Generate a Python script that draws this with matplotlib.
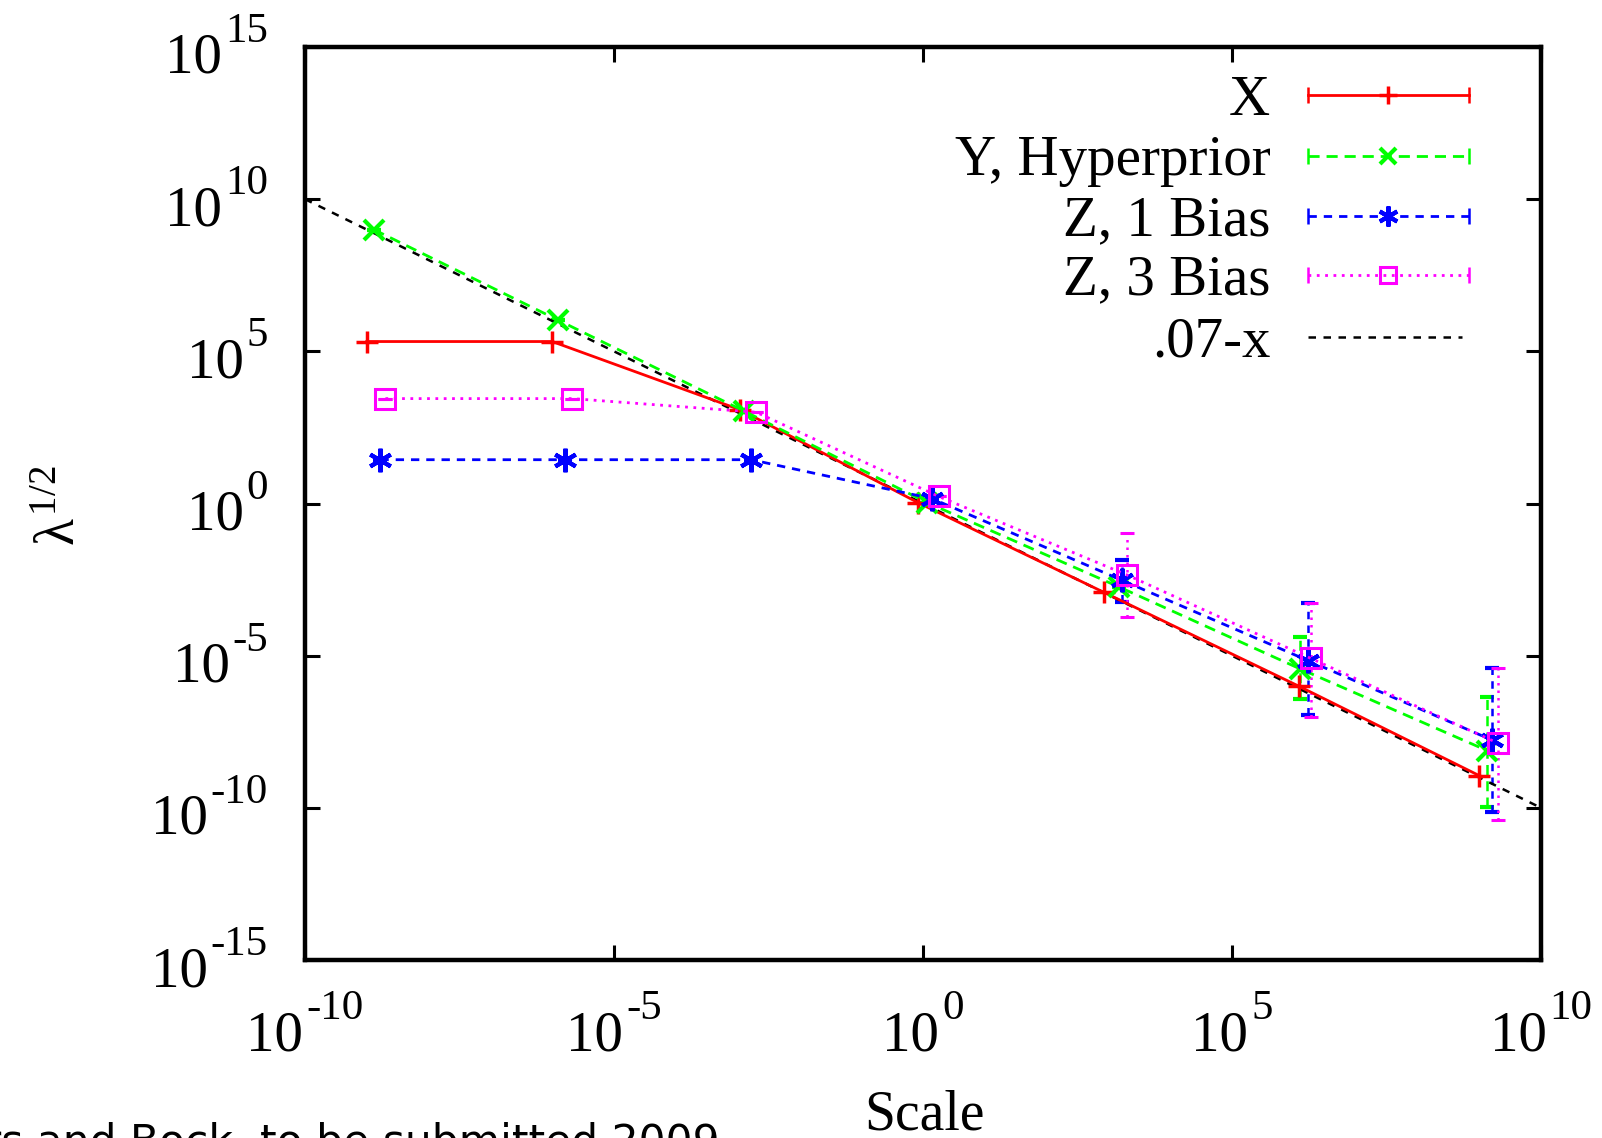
import matplotlib
matplotlib.use("Agg")
import matplotlib.pyplot as plt
from matplotlib.transforms import IdentityTransform
import numpy as np

plt.rcParams['font.family'] = ['Liberation Serif', 'DejaVu Serif']
plt.rcParams['mathtext.fontset'] = 'custom'
plt.rcParams['mathtext.rm'] = 'Liberation Serif'
plt.rcParams['mathtext.it'] = 'Liberation Serif'
plt.rcParams['mathtext.bf'] = 'Liberation Serif:bold'

# ---- data ----
x_X = [1.0e-9, 1.0e-6, 1.1e-3, 0.83, 850, 1.2e6, 1.0e9]
y_X = [2.1e5, 2.1e5, 1.2e3, 1.07, 1.2e-3, 1.0e-6, 1.15e-9]

x_Y = [1.3e-9, 1.26e-6, 1.26e-3, 1.17, 1.5e3, 1.26e6, 1.35e9]
y_Y = [1.0e9, 1.05e6, 1.1e3, 1.07, 1.8e-3, 3.7e-6, 7.6e-9]
lo_Y = [1.0e9, 1.05e6, 1.1e3, 1.07, 1.8e-3, 3.7e-7, 1.1e-10]
hi_Y = [1.0e9, 1.05e6, 1.1e3, 1.07, 1.8e-3, 4.1e-5, 4.3e-7]

x_Z1 = [1.66e-9, 1.6e-6, 1.66e-3, 1.4, 1.66e3, 1.7e6, 1.6e9]
y_Z1 = [27.5, 27.5, 27.5, 1.45, 3.0e-3, 6.9e-6, 1.7e-8]
lo_Z1 = [27.5, 27.5, 27.5, 1.45, 5.6e-4, 1.15e-7, 7.1e-11]
hi_Z1 = [27.5, 27.5, 27.5, 1.45, 1.4e-2, 5.2e-4, 4.0e-6]

x_Z3 = [2.0e-9, 2.1e-6, 2.0e-3, 1.8, 2.0e3, 1.9e6, 2.0e9]
y_Z3 = [2.8e3, 2.8e3, 1.0e3, 1.7, 4.5e-3, 8.1e-6, 1.35e-8]
lo_Z3 = [2.8e3, 2.8e3, 1.0e3, 1.7, 1.9e-4, 1.0e-7, 4.1e-11]
hi_Z3 = [2.8e3, 2.8e3, 1.0e3, 1.7, 0.107, 5.2e-4, 4.0e-6]

x_line = [1.0e-10, 1.0e10]
y_line = [1.0e10, 1.0e-10]

labels = ["X", "Y, Hyperprior", "Z, 1 Bias", "Z, 3 Bias", ".07-x"]
xticks = [1e-10, 1e-5, 1e0, 1e5, 1e10]
yticks = [1e-15, 1e-10, 1e-5, 1e0, 1e5, 1e10, 1e15]
xtick_exps = ["-10", "-5", "0", "5", "10"]
ytick_exps = ["-15", "-10", "-5", "0", "5", "10", "15"]

W, H = 1602, 1138
fig = plt.figure(figsize=(W / 100, H / 100), dpi=100)
ax = fig.add_axes([0.1904, 0.1564, 0.7715, 0.8023])
ax.set_xscale('log')
ax.set_yscale('log')
ax.set_xlim(1e-10, 1e10)
ax.set_ylim(1e-15, 1e15)

lw = 2.0
styles = [
    dict(color='#ff0000', ls='-', marker='+', ms=16, mew=2.5, mfc='none'),
    dict(color='#00ff00', ls=(0, (4, 2.5)), marker='x', ms=14, mew=3.0, mfc='none'),
    dict(color='#0000ff', ls=(0, (3, 2.5)), marker=(6, 2, 0), ms=17, mew=3.0, mfc='none'),
    dict(color='#ff00ff', ls=(0, (1, 2)), marker='s', ms=14, mew=2.2, mfc='none'),
]

def draw(xs, ys, lo, hi, st):
    ys = np.array(ys)
    yerr = None
    if lo is not None:
        yerr = [ys - np.array(lo), np.array(hi) - ys]
    eb = ax.errorbar(xs, ys, yerr=yerr, color=st['color'], ls=st['ls'], lw=lw,
                     marker=st['marker'], ms=st['ms'], mew=st['mew'], mfc=st['mfc'],
                     capsize=5, capthick=1.8, elinewidth=1.8)
    if lo is not None:
        for c in eb[2]:
            c.set_linestyle(st['ls'])
    return eb

draw(x_X, y_X, None, None, styles[0])
draw(x_Y, y_Y, lo_Y, hi_Y, styles[1])
draw(x_Z1, y_Z1, lo_Z1, hi_Z1, styles[2])
draw(x_Z3, y_Z3, lo_Z3, hi_Z3, styles[3])
ax.plot(x_line, y_line, color='black', ls=(0, (3, 3)), lw=1.8)

# ---- manual gnuplot-style key ----
rows = [0.947, 0.881, 0.815, 0.750, 0.682]
x0, x1 = 0.8115, 0.9417
for i, (lab, yy) in enumerate(zip(labels, rows)):
    ax.text(0.781, yy - 0.021, lab, transform=ax.transAxes, ha='right', va='baseline',
            fontsize=41)
    if i < 4:
        st = styles[i]
        ax.plot([x0, x1], [yy, yy], transform=ax.transAxes, color=st['color'],
                ls=st['ls'], lw=lw)
        ax.plot([x0, x1], [yy, yy], transform=ax.transAxes, color=st['color'],
                ls='none', marker='|', ms=12, mew=1.8)
        ax.plot([(x0 + x1) / 2], [yy], transform=ax.transAxes, color=st['color'],
                ls='none', marker=st['marker'], ms=st['ms'] * 0.85, mew=st['mew'], mfc='none')
    else:
        ax.plot([x0, 0.936], [yy, yy], transform=ax.transAxes, color='black',
                ls=(0, (3, 3)), lw=1.8)

ax.set_xticks(xticks)
ax.set_yticks(yticks)
ax.set_xticklabels([])
ax.set_yticklabels([])
ax.minorticks_off()
ax.tick_params(which='major', direction='in', length=11, width=2.2,
               top=True, right=True)
for s in ax.spines.values():
    s.set_linewidth(3.2)

# ---- gnuplot-style tick labels: "10" with raised exponent ----
renderer = fig.canvas.get_renderer()
idt = IdentityTransform()
BASE, SUP, GAP, RAISE = 41, 31, 3, 31

def width_of(s, size):
    t = fig.text(0, 0, s, fontsize=size, transform=idt)
    w = t.get_window_extent(renderer).width
    t.remove()
    return w

wb = width_of("10", BASE)
ax_bottom = ax.get_window_extent(renderer).y0
for tv, e in zip(xticks, xtick_exps):
    xc = ax.transData.transform((tv, 1.0))[0]
    we = width_of(e, SUP)
    left = xc - (wb + GAP + we) / 2
    base_y = ax_bottom - (1050 - 960)
    fig.text(left, base_y, "10", fontsize=BASE, transform=idt, ha='left', va='baseline')
    fig.text(left + wb + GAP, base_y + RAISE, e, fontsize=SUP, transform=idt,
             ha='left', va='baseline')

right_edge = 268
for tv, e in zip(yticks, ytick_exps):
    yc = ax.transData.transform((1.0, tv))[1]
    we = width_of(e, SUP)
    base_y = yc - 26
    fig.text(right_edge, base_y + RAISE, e, fontsize=SUP, transform=idt,
             ha='right', va='baseline')
    fig.text(right_edge - we - GAP, base_y, "10", fontsize=BASE, transform=idt,
             ha='right', va='baseline')

fig.text(61 / W, 1 - 506 / H, r"$\lambda^{1/2}$", rotation=90,
         ha='center', va='center', fontsize=40)
fig.text(924 / W, 1 - 1115 / H, "Scale", ha='center', va='center', fontsize=40)
fig.text(720 / W, 1 - 1122 / H, "Myers and Bock, to be submitted 2009",
         ha='right', va='top', fontsize=30.5, family='DejaVu Sans')

fig.savefig("out.png", dpi=100)
